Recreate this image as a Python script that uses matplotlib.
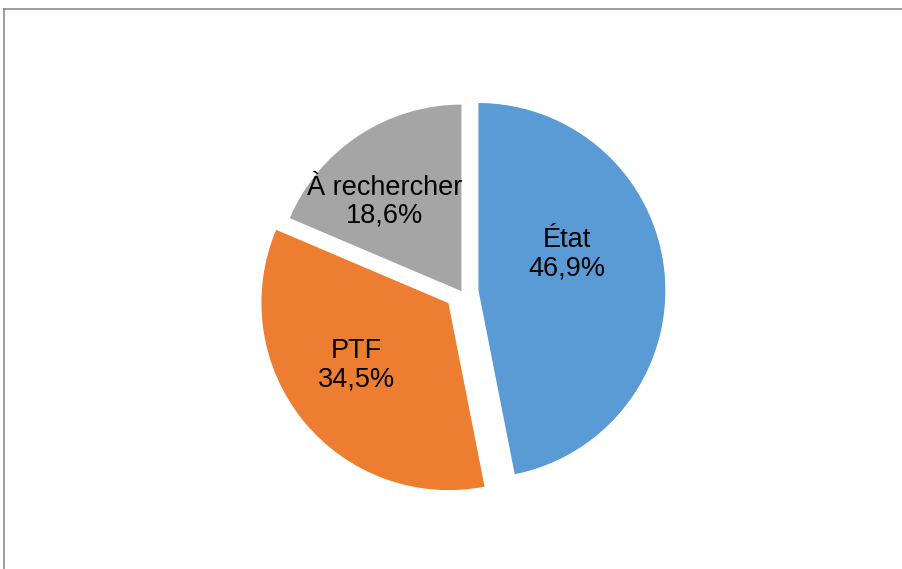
import matplotlib
matplotlib.use('Agg')
import matplotlib.pyplot as plt
from matplotlib.lines import Line2D

# data
labels = ['État', 'PTF', 'À rechercher']
values = [46.9, 34.5, 18.6]
colors = ['#5B9BD5', '#ED7D31', '#A5A5A5']
explode = [0.085, 0.09, 0.0]

# label spots (in pie radius units, relative to pie centre)
label_pos = [(0.56, 0.20), (-0.56, -0.39), (-0.41, 0.48)]

W, H = 903, 569
fig = plt.figure(figsize=(W / 100, H / 100), dpi=100)

# outer chart frame (only top and left edges visible)
fy = 1 - 8.5 / H
fx = 4.5 / W
fig.add_artist(Line2D([fx, 1.0], [fy, fy], transform=fig.transFigure,
                      color='#8c8c8c', linewidth=1.2))
fig.add_artist(Line2D([fx, fx], [0.0, fy], transform=fig.transFigure,
                      color='#8c8c8c', linewidth=1.2))

cx, cy, r = 462, 292, 188
half = 205
ax = fig.add_axes([(cx - half) / W, (H - cy - half) / H, 2 * half / W, 2 * half / H])

wedges, _ = ax.pie(values, colors=colors, explode=explode, startangle=90,
                   counterclock=False, radius=1,
                   wedgeprops=dict(edgecolor='white', linewidth=0.8))
ax.set_xlim(-half / r, half / r)
ax.set_ylim(-half / r, half / r)
ax.set_aspect('equal')
ax.axis('off')

for lab, v, (x, y) in zip(labels, values, label_pos):
    txt = lab + '\n' + ('%.1f%%' % v).replace('.', ',')
    ax.text(x, y, txt, ha='center', va='center', fontsize=19.5,
            family='Liberation Sans', color='#000000', linespacing=1.1)

fig.savefig('out.png', dpi=100)
